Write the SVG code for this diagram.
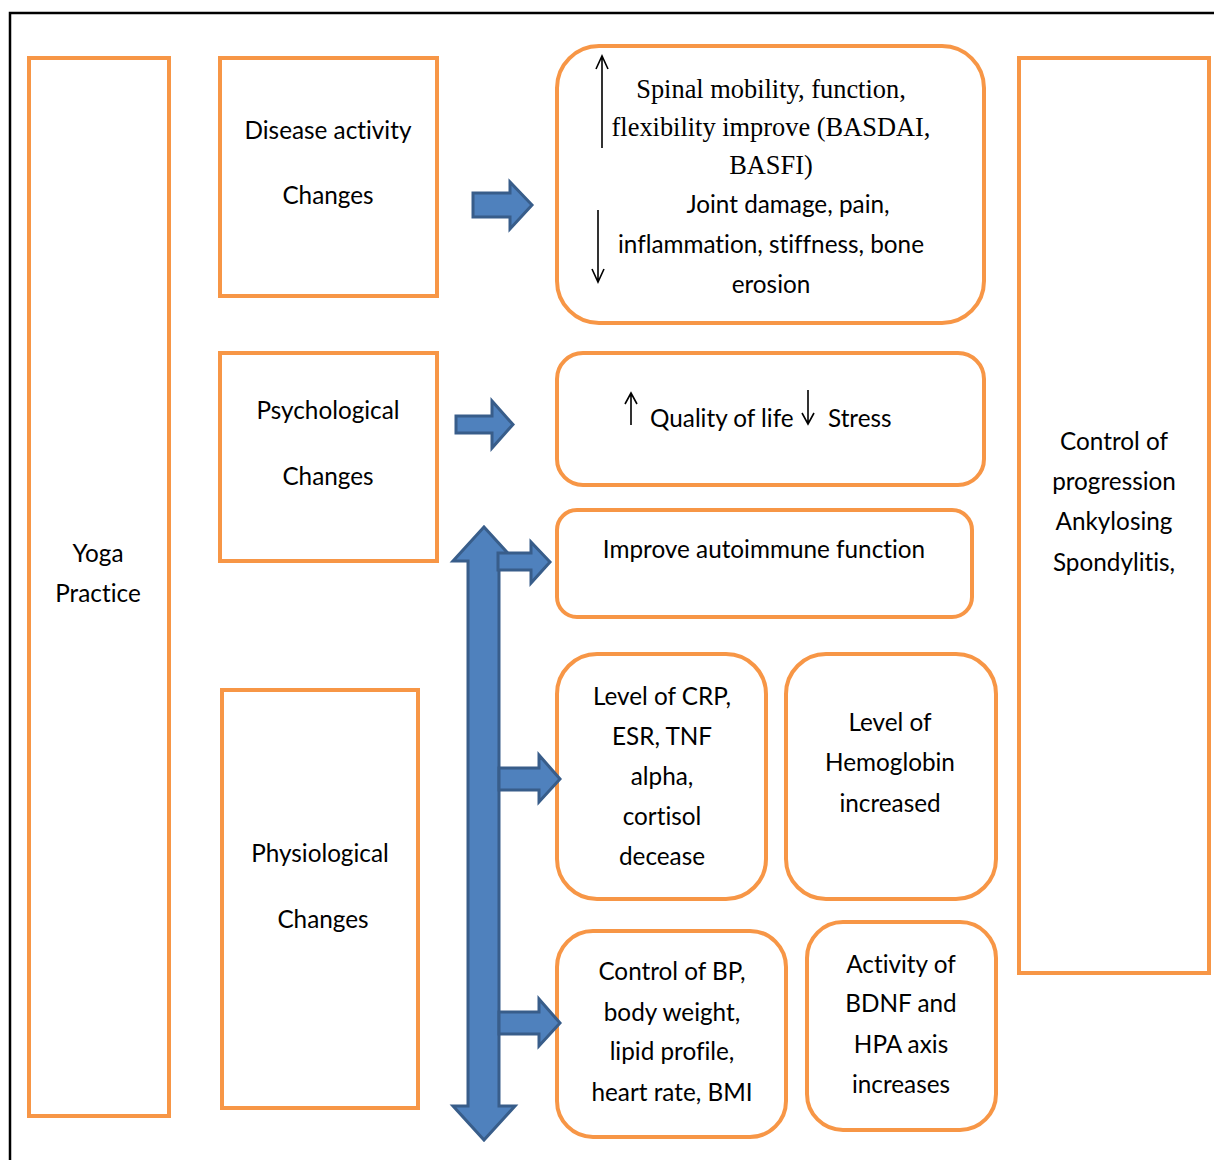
<svg xmlns="http://www.w3.org/2000/svg" width="1214" height="1160" viewBox="0 0 1214 1160">
  <style>
    .box { fill: #ffffff; stroke: #F79646; stroke-width: 4; }
    .blk { fill: #4F81BD; stroke: #385D8A; stroke-width: 3; stroke-linejoin: miter; }
    .t { font-family: Lato, "Liberation Sans", sans-serif; font-size: 24.3px; fill: #000; text-anchor: middle; font-variant-ligatures: none; }
    .s { font-family: "Liberation Serif", serif; font-size: 26.4px; fill: #000; text-anchor: middle; }
    .ln { stroke: #000; stroke-width: 1.6; fill: none; }
  </style>

  <rect width="1214" height="1160" fill="#ffffff"/>
  <!-- outer frame -->
  <path d="M10,1160 V13 H1214" fill="none" stroke="#000" stroke-width="2.5"/>

  <g id="yoga">
    <rect class="box" x="29" y="58" width="140" height="1058"/>
    <text class="t" x="98" y="562">Yoga</text>
    <text class="t" x="98" y="602">Practice</text>
  </g>

  <g id="disease">
    <rect class="box" x="220" y="58" width="217" height="238"/>
    <text class="t" x="328" y="139">Disease activity</text>
    <text class="t" x="328" y="204">Changes</text>
  </g>

  <g id="psych">
    <rect class="box" x="220" y="353" width="217" height="208"/>
    <text class="t" x="328" y="419">Psychological</text>
    <text class="t" x="328" y="485">Changes</text>
  </g>

  <g id="physio">
    <rect class="box" x="222" y="690" width="196" height="418"/>
    <text class="t" x="320" y="862">Physiological</text>
    <text class="t" x="323" y="928">Changes</text>
  </g>

  <g id="spinal">
    <rect class="box" x="557" y="46" width="427" height="277" rx="42"/>
    <text class="s" x="771" y="98">Spinal mobility, function,</text>
    <text class="s" x="771" y="136">flexibility improve (BASDAI,</text>
    <text class="s" x="771" y="174">BASFI)</text>
    <text class="t" x="788" y="213">Joint damage, pain,</text>
    <text class="t" x="771" y="253">inflammation, stiffness, bone</text>
    <text class="t" x="771" y="293">erosion</text>
    <path class="ln" d="M602,148 V56 M596,69 L602,56 L608,69"/>
    <path class="ln" d="M598,210 V282 M592,269 L598,282 L604,269"/>
  </g>

  <g id="quality">
    <rect class="box" x="557" y="353" width="427" height="132" rx="26"/>
    <path class="ln" d="M631,425 V393 M625,404 L631,393 L637,404"/>
    <text class="t" x="650" y="427" style="text-anchor:start">Quality of life</text>
    <path class="ln" d="M808,390 V424 M802,413 L808,424 L814,413"/>
    <text class="t" x="828" y="427" style="text-anchor:start">Stress</text>
  </g>

  <g id="autoimmune">
    <rect class="box" x="557" y="510" width="415" height="107" rx="20"/>
    <text class="t" x="764" y="558">Improve autoimmune function</text>
  </g>

  <g id="crp">
    <rect class="box" x="557" y="654" width="209" height="245" rx="40"/>
    <text class="t" x="662" y="705">Level of CRP,</text>
    <text class="t" x="662" y="745">ESR, TNF</text>
    <text class="t" x="662" y="785">alpha,</text>
    <text class="t" x="662" y="825">cortisol</text>
    <text class="t" x="662" y="865">decease</text>
  </g>

  <g id="hemoglobin">
    <rect class="box" x="786" y="654" width="210" height="245" rx="40"/>
    <text class="t" x="890" y="731">Level of</text>
    <text class="t" x="890" y="771">Hemoglobin</text>
    <text class="t" x="890" y="812">increased</text>
  </g>

  <g id="bp">
    <rect class="box" x="557" y="931" width="229" height="206" rx="36"/>
    <text class="t" x="672" y="980">Control of BP,</text>
    <text class="t" x="672" y="1021">body weight,</text>
    <text class="t" x="672" y="1060">lipid profile,</text>
    <text class="t" x="672" y="1101">heart rate, BMI</text>
  </g>

  <g id="bdnf">
    <rect class="box" x="807" y="922" width="189" height="208" rx="36"/>
    <text class="t" x="901" y="973">Activity of</text>
    <text class="t" x="901" y="1012">BDNF and</text>
    <text class="t" x="901" y="1053">HPA axis</text>
    <text class="t" x="901" y="1093">increases</text>
  </g>

  <g id="control">
    <rect class="box" x="1019" y="58" width="190" height="915"/>
    <text class="t" x="1114" y="450">Control of</text>
    <text class="t" x="1114" y="490">progression</text>
    <text class="t" x="1114" y="530">Ankylosing</text>
    <text class="t" x="1114" y="571">Spondylitis,</text>
  </g>

  <g id="connectors">
    <polygon class="blk" points="473,193 510,193 510,182 532,205 510,229 510,217 473,217"/>
    <polygon class="blk" points="456,416 492,416 492,401 513,424.5 492,448 492,433 456,433"/>
    <polygon class="blk" points="484,527 515,561 499,561 499,1106 515,1106 484,1140 453,1106 468,1106 468,561 453,561"/>
    <polygon class="blk" points="498,553 531,553 531,542 550,562 531,583 531,570 498,570"/>
    <polygon class="blk" points="499,768 539,768 539,755 560,779 539,802 539,790 499,790"/>
    <polygon class="blk" points="499,1012 539,1012 539,999 560,1023 539,1046 539,1034 499,1034"/>
  </g>
</svg>
